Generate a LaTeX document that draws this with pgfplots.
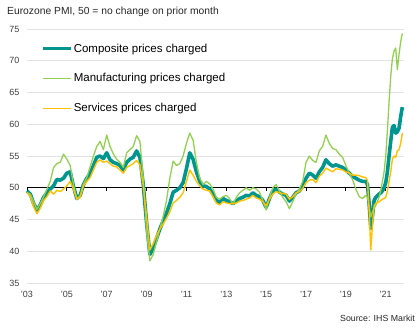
\documentclass[border=0pt]{standalone}
\usepackage{pgfplots}
\pgfplotsset{compat=1.18}
\usepackage{pgfplotstable}
\usepackage{fontspec}
\setmainfont{Liberation Sans}
\definecolor{compc}{HTML}{00968F}
\definecolor{manuc}{HTML}{92D050}
\definecolor{servc}{HTML}{FFC000}
\definecolor{txt}{HTML}{404040}
\definecolor{gridc}{HTML}{E3E3E3}
\pgfplotstableread{
m C M S
0 49.5 49.2 49.3
2 49.0 49.0 48.6
4 47.5 47.8 47.0
6 46.5 46.6 45.9
8 47.3 47.5 46.8
10 48.5 48.6 48.0
12 49.2 49.8 48.6
14 49.8 51.0 49.5
16 50.3 53.2 49.0
18 51.3 53.8 49.6
20 51.2 54.0 49.4
22 51.5 55.3 49.8
24 52.3 54.5 50.3
26 52.5 53.5 51.0
28 50.2 50.5 49.8
30 48.3 48.2 48.2
32 48.8 48.8 48.5
34 50.5 50.6 50.3
36 51.5 51.6 51.0
38 52.2 53.3 51.6
40 53.5 55.0 52.8
42 54.8 56.5 54.0
44 55.0 57.3 54.4
46 54.6 56.0 54.0
48 55.5 58.3 54.2
50 54.4 56.5 53.8
52 54.0 55.3 53.4
54 53.8 54.5 53.3
56 53.5 54.0 52.8
58 52.8 53.2 52.3
60 54.0 55.5 53.2
62 54.5 56.0 53.5
64 54.8 56.5 53.8
66 55.8 58.2 54.3
68 54.8 57.3 53.6
70 50.5 51.5 50.3
72 44.5 43.0 45.5
74 39.5 38.5 40.2
76 40.5 39.5 41.2
78 42.0 41.5 42.5
80 43.5 43.5 43.5
82 44.8 45.5 44.3
84 46.0 48.0 45.2
86 47.5 51.5 46.2
88 49.3 54.2 47.6
90 49.6 53.5 48.0
92 50.0 53.8 48.5
94 50.8 55.0 49.2
96 53.0 57.0 51.0
98 55.5 58.6 52.8
100 54.5 57.5 52.0
102 52.5 54.0 51.0
104 51.0 51.5 50.3
106 50.3 50.5 49.8
108 50.2 51.0 49.6
110 49.8 50.6 49.5
112 49.0 49.8 48.6
114 48.0 48.5 47.6
116 47.7 48.2 47.3
118 48.3 48.6 47.8
120 48.0 48.8 47.6
122 47.8 48.3 47.5
124 47.5 47.4 47.5
126 47.9 48.5 47.6
128 48.3 49.2 47.9
130 48.5 49.6 48.0
132 48.8 50.0 48.2
134 48.7 49.6 48.4
136 49.2 50.0 48.8
138 48.8 49.8 48.4
140 48.6 49.3 48.2
142 48.0 48.0 47.8
144 46.9 46.5 47.2
146 48.3 48.5 48.2
148 49.5 50.0 49.0
150 49.8 50.5 49.4
152 49.3 49.5 49.2
154 49.0 48.5 49.1
156 48.8 47.8 49.0
158 47.9 46.7 48.2
160 48.5 47.8 48.6
162 49.2 49.0 49.2
164 49.5 49.8 49.4
166 50.2 51.0 49.9
168 51.5 54.0 50.8
170 52.3 55.0 51.2
172 52.0 54.3 51.3
174 51.5 54.0 50.8
176 52.5 55.8 51.8
178 53.2 56.5 52.3
180 54.4 58.3 53.1
182 53.8 57.0 52.8
184 53.4 56.2 52.5
186 53.6 56.0 53.0
188 53.4 55.3 52.9
190 53.2 54.8 52.8
192 52.8 53.5 52.5
194 52.3 52.3 52.3
196 51.8 51.3 52.0
198 51.5 49.8 52.0
200 51.2 48.6 51.9
202 51.0 48.3 51.7
204 51.0 48.8 51.6
205 50.5 48.5 51.2
206 47.5 47.0 46.5
207 43.6 45.4 40.2
208 45.5 46.2 44.0
209 48.0 46.8 47.2
210 48.5 47.2 47.5
212 49.0 48.5 47.8
213 49.2 49.6 48.0
214 49.5 51.0 48.2
215 50.0 52.5 48.3
216 50.8 55.0 48.5
217 52.5 59.0 49.5
218 55.0 63.5 51.0
219 57.3 67.5 52.5
220 59.5 70.3 54.5
221 59.8 71.5 55.0
222 58.6 72.0 54.8
223 58.8 68.6 55.8
224 59.4 71.0 56.0
225 61.2 73.0 57.0
226 62.7 74.3 58.6
}\pmidata
\begin{document}
\begin{tikzpicture}
\useasboundingbox (-27pt,-44pt) rectangle (392pt,283pt);
\begin{axis}[
  scale only axis,
  width=377pt, height=254pt,
  at={(0,0)}, anchor=south west,
  xmin=0, xmax=227,
  ymin=35, ymax=75,
  ytick={35,40,...,75},
  xtick={0,24,...,216},
  xticklabels={'03,'05,'07,'09,'11,'13,'15,'17,'19,'21},
  axis line style={draw=none},
  major tick length=0pt,
  ymajorgrids, grid style={gridc, line width=0.8pt},
  tick label style={font=\fontsize{9}{10}\selectfont, text=txt},
  /pgf/number format/assume math mode=true,
  yticklabel style={xshift=-4pt},
  xticklabel style={yshift=-5pt},
  clip=false,
  legend style={at={(axis description cs:0,1)}, anchor=north west, xshift=11pt, yshift=-11.5pt,
    draw=none, fill=none, font=\fontsize{11.5}{13}\selectfont, row sep=18pt,
    nodes={inner sep=1pt}},
  legend cell align=left,
  legend image code/.code={\draw[#1] (0pt,0pt) -- (28pt,0pt);},
]
\draw[black, line width=1.4pt] (axis cs:0,50) -- (axis cs:227,50);
\pgfplotsinvokeforeach{0,24,...,216}{\draw[black, line width=0.8pt] (axis cs:#1,50) -- (axis cs:#1,49.55);}
\addplot[compc, line width=3.6pt, line join=round] table[x=m, y=C] {\pmidata};
\addlegendentry{Composite prices charged}
\addplot[manuc, line width=1.3pt, line join=round] table[x=m, y=M] {\pmidata};
\addlegendentry{Manufacturing prices charged}
\addplot[servc, line width=1.4pt, line join=round] table[x=m, y=S] {\pmidata};
\addlegendentry{Services prices charged}
\end{axis}
\node[anchor=west, font=\fontsize{10.3}{12}\selectfont, text=black!85, inner sep=0pt] at (-20pt,271pt) {Eurozone PMI, 50 = no change on prior month};
\node[anchor=east, font=\fontsize{8.8}{10}\selectfont, text=black!85, inner sep=0pt] at (388pt,-35pt) {Source: IHS Markit};
\end{tikzpicture}
\end{document}
